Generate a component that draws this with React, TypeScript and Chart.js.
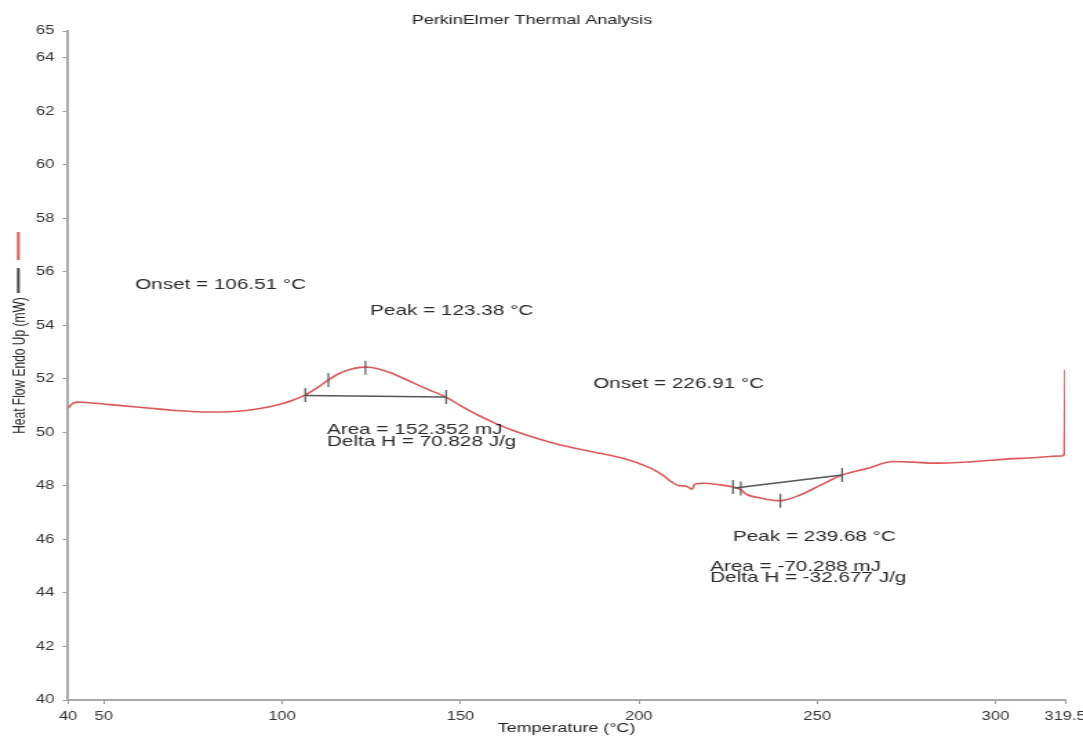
import React, { useEffect, useRef } from 'react';
import { Chart, registerables } from 'chart.js';

Chart.register(...registerables);

// ---- data ----
const temperature = [
  40.0, 41.0, 42.5, 45, 50, 55, 60, 65, 70, 75, 80, 85, 90, 95, 100, 103, 106.5, 110, 113, 116,
  119, 122, 124, 127, 130, 133, 137, 141, 146, 150, 155, 160, 165, 172, 178, 187, 196.5, 202, 206, 209.5,
  211, 213.5, 214.9, 215.8, 218, 222.8, 226.5, 228.5, 230.3, 234, 238.7, 240.5, 245.2, 250.8, 256.9, 264, 271.4, 277, 282.6, 292.9,
  306.9, 318.6, 319.3, 319.5,
];
const heatFlow = [
  50.9, 51.05, 51.13, 51.12, 51.06, 51.0, 50.94, 50.88, 50.82, 50.78, 50.76, 50.77, 50.82, 50.92, 51.07, 51.2, 51.4, 51.68, 51.96, 52.2,
  52.35, 52.43, 52.44, 52.37, 52.25, 52.08, 51.84, 51.6, 51.32, 51.0, 50.64, 50.33, 50.06, 49.75, 49.53, 49.28, 49.0, 48.74, 48.47, 48.12,
  48.02, 47.98, 47.88, 48.07, 48.1, 48.04, 47.96, 47.86, 47.68, 47.55, 47.45, 47.46, 47.66, 48.02, 48.4, 48.65, 48.91, 48.89, 48.85, 48.9,
  49.03, 49.12, 49.2, 52.34,
];
const baseline1T = [106.51, 146.0];
const baseline1H = [51.38, 51.32];
const baseline2T = [226.91, 257.0];
const baseline2H = [47.92, 48.41];
const markerT = [106.51, 113.0, 123.38, 146.0, 226.4, 228.6, 239.68, 257.0];
const markerH = [51.4, 51.96, 52.42, 51.32, 47.96, 47.9, 47.45, 48.41];

const xTicks = [40, 50, 100, 150, 200, 250, 300, 319.5];
const yTicks = [40, 42, 44, 46, 48, 50, 52, 54, 56, 58, 60, 62, 64, 65];

const annotationTexts = [
  'Onset = 106.51 °C',
  'Peak = 123.38 °C',
  'Onset = 226.91 °C',
  'Area = 152.352 mJ',
  'Delta H = 70.828 J/g',
  'Peak = 239.68 °C',
  'Area = -70.288 mJ',
  'Delta H = -32.677 J/g',
];
const annotationT = [58.8, 124.7, 187.2, 112.6, 112.6, 226.4, 220.0, 220.0];
const annotationH = [55.51, 54.54, 51.81, 50.09, 49.64, 46.09, 44.97, 44.56];

const chartTitle = 'PerkinElmer Thermal Analysis';
const xTitle = 'Temperature (°C)';
const yTitle = 'Heat Flow Endo Up (mW)';

// ---- layout ----
const FULL_W = 1083;
const FULL_H = 736;
const INNER_W = 785;
const SX = FULL_W / INNER_W;
const FONT = "'Liberation Sans', Arial, Helvetica, sans-serif";
const RED = 'rgb(222,88,88)';
const GRAY = '#555555';

const toPts = (xs: number[], ys: number[]) => xs.map((x, i) => ({ x, y: ys[i] }));

const overlayPlugin = {
  id: 'overlay',
  afterDraw(chart: any) {
    const { ctx } = chart;
    const xs = chart.scales.x;
    const ys = chart.scales.y;
    ctx.save();
    // title
    ctx.fillStyle = '#222';
    ctx.font = `13px ${FONT}`;
    ctx.textAlign = 'center';
    ctx.textBaseline = 'middle';
    ctx.fillText(chartTitle, 532 / SX, 20.5);
    // legend swatches next to the y title
    ctx.lineWidth = 2;
    ctx.strokeStyle = RED;
    ctx.beginPath();
    ctx.moveTo(13.3, 232);
    ctx.lineTo(13.3, 260);
    ctx.stroke();
    ctx.strokeStyle = '#444';
    ctx.beginPath();
    ctx.moveTo(13.3, 268);
    ctx.lineTo(13.3, 293);
    ctx.stroke();
    // annotations
    ctx.fillStyle = '#2a2a2a';
    ctx.font = `15px ${FONT}`;
    ctx.textAlign = 'left';
    ctx.textBaseline = 'middle';
    annotationTexts.forEach((t, i) => {
      ctx.fillText(t, xs.getPixelForValue(annotationT[i]), ys.getPixelForValue(annotationH[i]));
    });
    ctx.restore();
  },
};

export default function App() {
  const canvasRef = useRef<HTMLCanvasElement | null>(null);

  useEffect(() => {
    document.body.style.margin = '0';
    const canvas = canvasRef.current;
    if (!canvas) return;
    const chart = new Chart(canvas, {
      type: 'scatter',
      data: {
        datasets: [
          {
            label: 'Heat Flow',
            data: toPts(temperature, heatFlow),
            showLine: true,
            borderColor: RED,
            borderWidth: 1.6,
            pointRadius: 0,
            cubicInterpolationMode: 'monotone',
            order: 2,
          },
          {
            label: 'Baseline 1',
            data: toPts(baseline1T, baseline1H),
            showLine: true,
            borderColor: GRAY,
            borderWidth: 1.5,
            pointRadius: 0,
            order: 1,
          },
          {
            label: 'Baseline 2',
            data: toPts(baseline2T, baseline2H),
            showLine: true,
            borderColor: GRAY,
            borderWidth: 1.5,
            pointRadius: 0,
            order: 1,
          },
          {
            label: 'Markers',
            data: toPts(markerT, markerH),
            showLine: false,
            pointStyle: 'line',
            rotation: 90,
            pointRadius: 7,
            borderColor: GRAY,
            borderWidth: 1.2,
            order: 0,
          },
        ],
      },
      options: {
        animation: false,
        responsive: true,
        maintainAspectRatio: false,
        events: [],
        layout: { padding: { left: 0, right: 13, top: 31, bottom: 0 } },
        plugins: {
          legend: { display: false },
          tooltip: { enabled: false },
          title: { display: false },
        },
        scales: {
          x: {
            type: 'linear',
            min: 40,
            max: 319.5,
            afterBuildTicks: (s: any) => {
              s.ticks = xTicks.map((v) => ({ value: v }));
            },
            afterFit: (s: any) => {
              s.height = 36;
              s.paddingLeft = 0;
              s.paddingRight = 0;
            },
            ticks: {
              autoSkip: false,
              maxRotation: 0,
              padding: 5,
              color: '#333',
              font: { family: FONT, size: 12 },
              callback: (v: any) => String(v),
            },
            grid: { display: true, drawOnChartArea: false, drawTicks: true, tickLength: 4, color: '#999' },
            border: { display: true, color: '#aaa', width: 2 },
            title: {
              display: true,
              text: xTitle,
              color: '#222',
              font: { family: FONT, size: 13 },
              padding: { top: 0, bottom: 0 },
            },
          },
          y: {
            type: 'linear',
            min: 40,
            max: 65,
            afterBuildTicks: (s: any) => {
              s.ticks = yTicks.map((v) => ({ value: v }));
            },
            afterFit: (s: any) => {
              s.width = 49.3;
              s.paddingTop = 0;
              s.paddingBottom = 0;
            },
            ticks: {
              autoSkip: false,
              padding: 6,
              color: '#333',
              font: { family: FONT, size: 12 },
              callback: (v: any) => String(v),
            },
            grid: { display: true, drawOnChartArea: false, drawTicks: true, tickLength: 4, color: '#999' },
            border: { display: true, color: '#aaa', width: 2 },
            title: {
              display: true,
              text: yTitle,
              color: '#222',
              font: { family: FONT, size: 12 },
              padding: { top: 7, bottom: 0 },
            },
          },
        },
      },
      plugins: [overlayPlugin],
    } as any);
    return () => chart.destroy();
  }, []);

  return (
    <div
      style={{
        position: 'fixed',
        left: 0,
        top: 0,
        width: FULL_W,
        height: FULL_H,
        overflow: 'hidden',
        background: '#fff',
      }}
    >
      <div
        style={{
          width: INNER_W,
          height: FULL_H,
          transform: `scaleX(${SX})`,
          transformOrigin: '0 0',
        }}
      >
        <canvas ref={canvasRef} />
      </div>
    </div>
  );
}
